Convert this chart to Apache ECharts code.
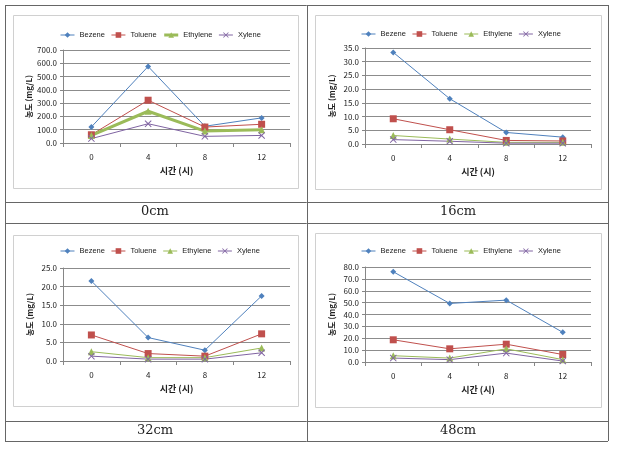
<!DOCTYPE html>
<html><head><meta charset="utf-8">
<script src="https://cdn.jsdelivr.net/npm/echarts@6/dist/echarts.min.js"></script>
<style>html,body{margin:0;padding:0;background:#fff}#c{width:618px;height:449px}</style>
</head><body><div id="c"></div>
<script>
const categories = ['0', '4', '8', '12'];
const seriesNames = ['Bezene', 'Toluene', 'Ethylene', 'Xylene'];
const captions = ['0cm', '16cm', '32cm', '48cm'];
// values per depth: [Bezene, Toluene, Ethylene, Xylene]
const bezene0 = [121, 576, 126, 189];
const toluene0 = [62, 322, 120, 141];
const ethylene0 = [57, 239, 90, 100];
const xylene0 = [33, 145, 50, 57];
const bezene16 = [33.4, 16.5, 4.2, 2.5];
const toluene16 = [9.2, 5.2, 1.3, 1.1];
const ethylene16 = [3.1, 1.8, 0.6, 0.6];
const xylene16 = [1.6, 1.0, 0.3, 0.3];
const bezene32 = [21.5, 6.3, 2.9, 17.5];
const toluene32 = [7.0, 2.0, 1.3, 7.3];
const ethylene32 = [2.5, 0.9, 0.9, 3.5];
const xylene32 = [1.3, 0.5, 0.5, 2.2];
const bezene48 = [76.0, 49.3, 52.1, 25.0];
const toluene48 = [18.7, 11.1, 15.0, 6.3];
const ethylene48 = [5.3, 3.3, 11.1, 2.0];
const xylene48 = [3.3, 2.0, 7.5, 0.8];
const yMax = [700, 35, 25, 80];
const yInterval = [100, 5, 5, 10];

const data = [
  [bezene0, toluene0, ethylene0, xylene0],
  [bezene16, toluene16, ethylene16, xylene16],
  [bezene32, toluene32, ethylene32, xylene32],
  [bezene48, toluene48, ethylene48, xylene48]
];
const colors = ['#4F81BD', '#C0504D', '#9BBB59', '#8064A2'];
const xPath = 'path://M0,1L1,0L5,4L9,0L10,1L6,5L10,9L9,10L5,6L1,10L0,9L4,5Z';
const symbols = ['diamond', 'rect', 'triangle', xPath];
const symSizes = [6, 7, 7, 7];

const grids = [
  {left: 63, top: 50, width: 227, height: 93},
  {left: 365, top: 48, width: 226, height: 96},
  {left: 63, top: 268, width: 227, height: 93},
  {left: 365, top: 267, width: 226, height: 95}
];
const panels = [
  [13, 15, 285, 173], [315, 15, 286, 174], [13, 235, 285, 171], [315, 233, 286, 174]
];
const legendPos = [[55, 26], [356, 25], [55, 242], [356, 242]];
const capPos = [[155, 212], [458, 212], [155, 431], [458, 431]];

const font = '"Noto Sans CJK KR", "Noto Sans", sans-serif';
const legFont = '"Liberation Sans", Arial, sans-serif';
const option = {
  animation: false,
  backgroundColor: '#fff',
  grid: grids.map(g => Object.assign({containLabel: false}, g)),
  legend: grids.map((g, i) => ({
    left: legendPos[i][0], top: legendPos[i][1],
    itemWidth: 14, itemHeight: 7, itemGap: 6,
    textStyle: {fontSize: 7.5, fontFamily: legFont, color: '#222'},
    data: seriesNames.map((n, k) => ({name: n, lineStyle: {width: (i === 0 && k === 2) ? 3 : 1}}))
  })),
  xAxis: grids.map((g, i) => ({
    type: 'category', gridIndex: i, data: categories, boundaryGap: true,
    name: '시간 (시)', nameLocation: 'middle', nameGap: 23,
    nameTextStyle: {fontSize: 9, fontWeight: 'bold', fontFamily: font, color: '#222'},
    axisLine: {lineStyle: {color: '#868686'}},
    axisTick: {show: true, length: 4, lineStyle: {color: '#868686'}},
    axisLabel: {fontSize: 8, fontFamily: font, color: '#222', margin: 10},
    splitLine: {show: false}
  })),
  yAxis: grids.map((g, i) => ({
    type: 'value', gridIndex: i, min: 0, max: yMax[i], interval: yInterval[i],
    name: '농도 (mg/L)', nameLocation: 'middle', nameGap: 29,
    nameTextStyle: {fontSize: 8, fontWeight: 'bold', fontFamily: font, color: '#222'},
    axisLine: {show: true, lineStyle: {color: '#868686'}},
    axisTick: {show: true, length: 3, lineStyle: {color: '#868686'}},
    axisLabel: {fontSize: 8, fontFamily: font, color: '#222', margin: 6,
      formatter: v => v.toFixed(1)},
    splitLine: {show: true, lineStyle: {color: '#8c8c8c', width: 1}}
  })),
  series: [],
  graphic: []
};
data.forEach((set, i) => {
  set.forEach((vals, k) => {
    option.series.push({
      type: 'line', name: seriesNames[k], xAxisIndex: i, yAxisIndex: i,
      data: vals, symbol: symbols[k], symbolSize: symSizes[k],
      lineStyle: {color: colors[k], width: (i === 0 && k === 2) ? 3 : 1},
      itemStyle: {color: colors[k]}, z: 3
    });
  });
});
// panels (chart borders)
panels.forEach(p => option.graphic.push({
  type: 'rect', shape: {x: p[0] + 0.5, y: p[1] + 0.5, width: p[2], height: p[3]},
  style: {fill: 'none', stroke: '#d0d0d0', lineWidth: 1}, z: -1
}));
// table lines
const lineStyle = {stroke: '#666', lineWidth: 1};
const hl = [5, 202, 223, 421, 441];
hl.forEach(y => option.graphic.push({type: 'line', shape: {x1: 5, y1: y + 0.5, x2: 608, y2: y + 0.5}, style: lineStyle}));
[5, 307, 608].forEach(x => option.graphic.push({type: 'line', shape: {x1: x + 0.5, y1: 5, x2: x + 0.5, y2: 441}, style: lineStyle}));
captions.forEach((c, i) => option.graphic.push({
  type: 'text', x: capPos[i][0], y: capPos[i][1],
  style: {text: c, fontSize: 13, fontFamily: '"DejaVu Serif", "Liberation Serif", serif', fill: '#222',
    align: 'center', verticalAlign: 'middle'}
}));
echarts.init(document.getElementById('c')).setOption(option);
</script></body></html>
